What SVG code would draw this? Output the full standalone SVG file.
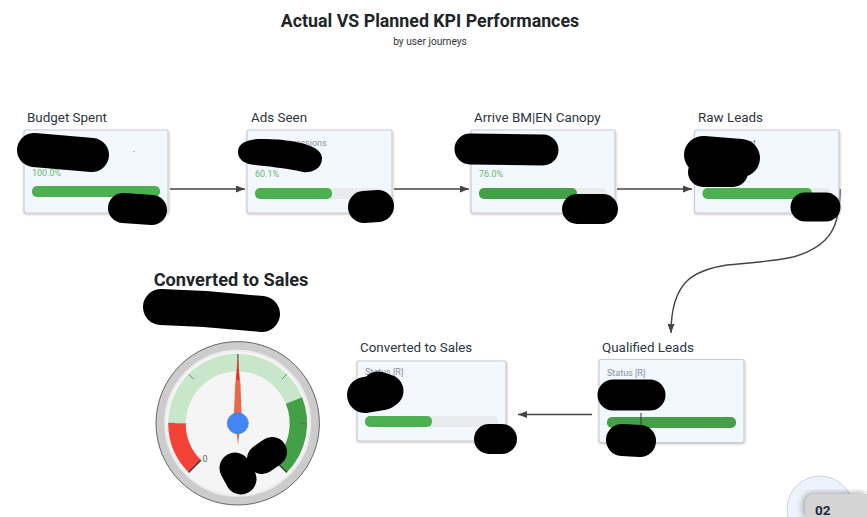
<svg xmlns="http://www.w3.org/2000/svg" width="867" height="517" viewBox="0 0 867 517">
<style>
text{font-family:Roboto,"Liberation Sans",sans-serif}
.ttl{font-size:17.800px;font-weight:700;fill:#212529;text-anchor:middle}
.sub{font-size:10.200px;fill:#333;text-anchor:middle}
.lbl{font-size:13.400px;fill:#2b3440}
.card{fill:#f3f8fe;stroke:#c9ccd0;stroke-width:1.2;filter:url(#sh)}
.small{font-size:9px;fill:#8a9099}
.pct{font-size:9px;fill:#63b96a}
.trk{fill:#e9eaec}
.bar{fill:#4caf50}
.bar2{fill:#43a047}
.cn{fill:none;stroke:#444;stroke-width:1.4}
.blob{fill:none;stroke:#000;stroke-linecap:round;stroke-linejoin:round}
</style>
<defs>
<filter id="sh" x="-5%" y="-5%" width="112%" height="115%"><feDropShadow dx="0.5" dy="1" stdDeviation="1" flood-color="#000" flood-opacity="0.25"/></filter>
<filter id="sh2" x="-20%" y="-20%" width="140%" height="140%"><feDropShadow dx="-2" dy="-1" stdDeviation="3" flood-color="#000" flood-opacity="0.35"/></filter>
<marker id="ah" markerWidth="9" markerHeight="7" refX="9" refY="3.500" orient="auto" markerUnits="userSpaceOnUse"><path d="M0 0L9 3.500L0 7Z" fill="#444"/></marker>
</defs>
<rect width="867" height="517" fill="#fff"/>
<text class="ttl" x="430" y="27">Actual VS Planned KPI Performances</text>
<text class="sub" x="430" y="45">by user journeys</text>

<g id="connectors">
<path class="cn" d="M170 189H245" marker-end="url(#ah)"/>
<path class="cn" d="M394 189H469" marker-end="url(#ah)"/>
<path class="cn" d="M617 189H692" marker-end="url(#ah)"/>
<path class="cn" d="M840 189C840 225 832 246 793 257C770 262 745 263 727 265C695 270 671 280 671 333" marker-end="url(#ah)"/>
<path class="cn" d="M592 414.500H518" marker-end="url(#ah)"/>
</g>

<g id="node-budget">
<text class="lbl" x="27" y="122">Budget Spent</text>
<rect class="card" x="24" y="130" width="144" height="83" rx="2"/>
<text class="pct" x="32" y="176">100.0%</text>
<rect class="bar" x="32" y="186" width="128" height="11" rx="5"/>
<rect x="133.500" y="151" width="1" height="1" fill="#777"/>
<path class="blob" stroke-width="34" d="M34 150L92 155"/>
<path class="blob" stroke-width="30" d="M123 208L152 210"/>
</g>

<g id="node-ads">
<text class="lbl" x="251" y="122">Ads Seen</text>
<rect class="card" x="247" y="130" width="145" height="83" rx="2"/>
<text class="small" x="255" y="146">Total Impressions</text>
<text class="pct" x="255" y="177">60.1%</text>
<rect class="trk" x="255" y="188" width="128" height="11" rx="5"/>
<rect class="bar" x="255" y="188" width="77" height="11" rx="5"/>
<path fill="#000" d="M238 152C238 142 250 139 262 139C285 139 322 143 322 158C322 170 310 173 303 172C285 168 265 166 255 165C245 164 238 160 238 152Z"/>
<path class="blob" stroke-width="32" d="M364 207L378 206"/>
</g>

<g id="node-arrive">
<text class="lbl" x="474" y="122">Arrive BM|EN Canopy</text>
<rect class="card" x="471" y="130" width="144" height="83" rx="2"/>
<text class="pct" x="479" y="177">76.0%</text>
<rect class="trk" x="479" y="188" width="128" height="11" rx="5"/>
<rect class="bar2" x="479" y="188" width="98" height="11" rx="5"/>
<path class="blob" stroke-width="31" d="M470 149L543 150"/>
<path class="blob" stroke-width="30" d="M577 209L603 209"/>
</g>

<g id="node-raw">
<text class="lbl" x="698" y="122">Raw Leads</text>
<rect class="card" x="694.500" y="130" width="144.500" height="83" rx="2"/>
<text class="small" x="756" y="146" text-anchor="end">Lead Count</text>
<rect class="trk" x="702.500" y="188" width="128" height="11" rx="5"/>
<rect class="bar" x="702.500" y="188" width="109.500" height="11" rx="5"/>
<path class="blob" stroke-width="38" d="M703 155L741 158"/>
<path class="blob" stroke-width="30" d="M703 172L733 172"/>
<path class="blob" stroke-width="29" d="M805 207L826 207"/>
</g>

<g id="node-qualified">
<text class="lbl" x="602" y="352">Qualified Leads</text>
<rect class="card" x="599" y="359.500" width="145" height="83" rx="2"/>
<text class="small" x="607" y="376">Status [R]</text>
<rect class="bar2" x="607" y="417" width="129" height="11" rx="5"/>
<path d="M641 413V426" stroke="#333" stroke-width="1"/>
<path class="blob" stroke-width="31" d="M613 395L650 395"/>
<path class="blob" stroke-width="32" d="M622 440L640 441"/>
</g>

<g id="node-converted">
<text class="lbl" x="360" y="352">Converted to Sales</text>
<rect class="card" x="357" y="361" width="149" height="80" rx="2"/>
<text class="small" x="365" y="375">Status [R]</text>
<rect class="trk" x="365" y="416" width="133" height="11" rx="5"/>
<rect class="bar" x="365" y="416" width="67" height="11" rx="5"/>
<path class="blob" stroke-width="36" d="M365 395L383 392"/>
<path class="blob" stroke-width="33" d="M378 388L387 391"/>
<path class="blob" stroke-width="30" d="M489 439L502 439"/>
</g>

<g id="gauge">
<text x="231" y="286" font-size="18.200" font-weight="700" fill="#212529" text-anchor="middle">Converted to Sales</text>
<circle cx="237.700" cy="423.300" r="81.700" fill="#ccc" stroke="#666" stroke-width="1"/>
<circle cx="237.700" cy="423.300" r="72.500" fill="#f5f5f5" stroke="#ececec" stroke-width="2"/>
<path d="M168.200 423.300A69.500 69.500 0 0 1 302.100 397.200L285.900 403.800A52 52 0 0 0 185.700 423.300Z" fill="#c8e6c9"/>
<path d="M188.600 472.400A69.500 69.500 0 0 1 168.200 423.300H185.700A52 52 0 0 0 200.900 460.100Z" fill="#f44336"/>
<path d="M302.100 397.200A69.500 69.500 0 0 1 286.800 472.400L274.500 460.100A52 52 0 0 0 285.900 403.800Z" fill="#43a047"/>
<g stroke="#666" stroke-width="0.800">
<path d="M188.600 374.200L193.500 379.100"/>
<path d="M286.800 374.200L281.900 379.100"/>
<path d="M168.200 423.300H175"/>
<path d="M307.200 423.300H300.400"/>
</g>
<path d="M188.600 472.400L200.900 460.100M286.800 472.400L274.500 460.100" stroke="#444" stroke-width="1.500"/>
<text x="205" y="462" font-size="9" fill="#666" text-anchor="middle">0</text>
<path d="M237.900 354V366" stroke="#333" stroke-width="1"/>
<path d="M237.800 356L240.500 385L241.500 412L238 445L234 412L235.200 385Z" fill="#e8684c"/>
<path d="M237.800 356L239.200 380H236.400Z" fill="#d8341a"/>
<circle cx="237.800" cy="423.300" r="10.500" fill="#4285f4" stroke="#5a7fb5" stroke-width="0.800"/>
<path class="blob" stroke-width="36" d="M161 307L205 309L262 314"/>
<path class="blob" stroke-width="31" d="M235 468L241 479"/>
<path class="blob" stroke-width="30" d="M262 459L272 452"/>
</g>

<g id="page-chip">
<circle cx="820" cy="509" r="33" fill="#eef2fd" stroke="#c4c8d4" stroke-width="0.800"/>
<path d="M867 494H817Q805 494 805 506V517H867Z" fill="#d4d4d4" filter="url(#sh2)"/>
<text x="815" y="515" font-size="13.500" font-weight="700" fill="#1f2a3a">02</text>
</g>
</svg>
